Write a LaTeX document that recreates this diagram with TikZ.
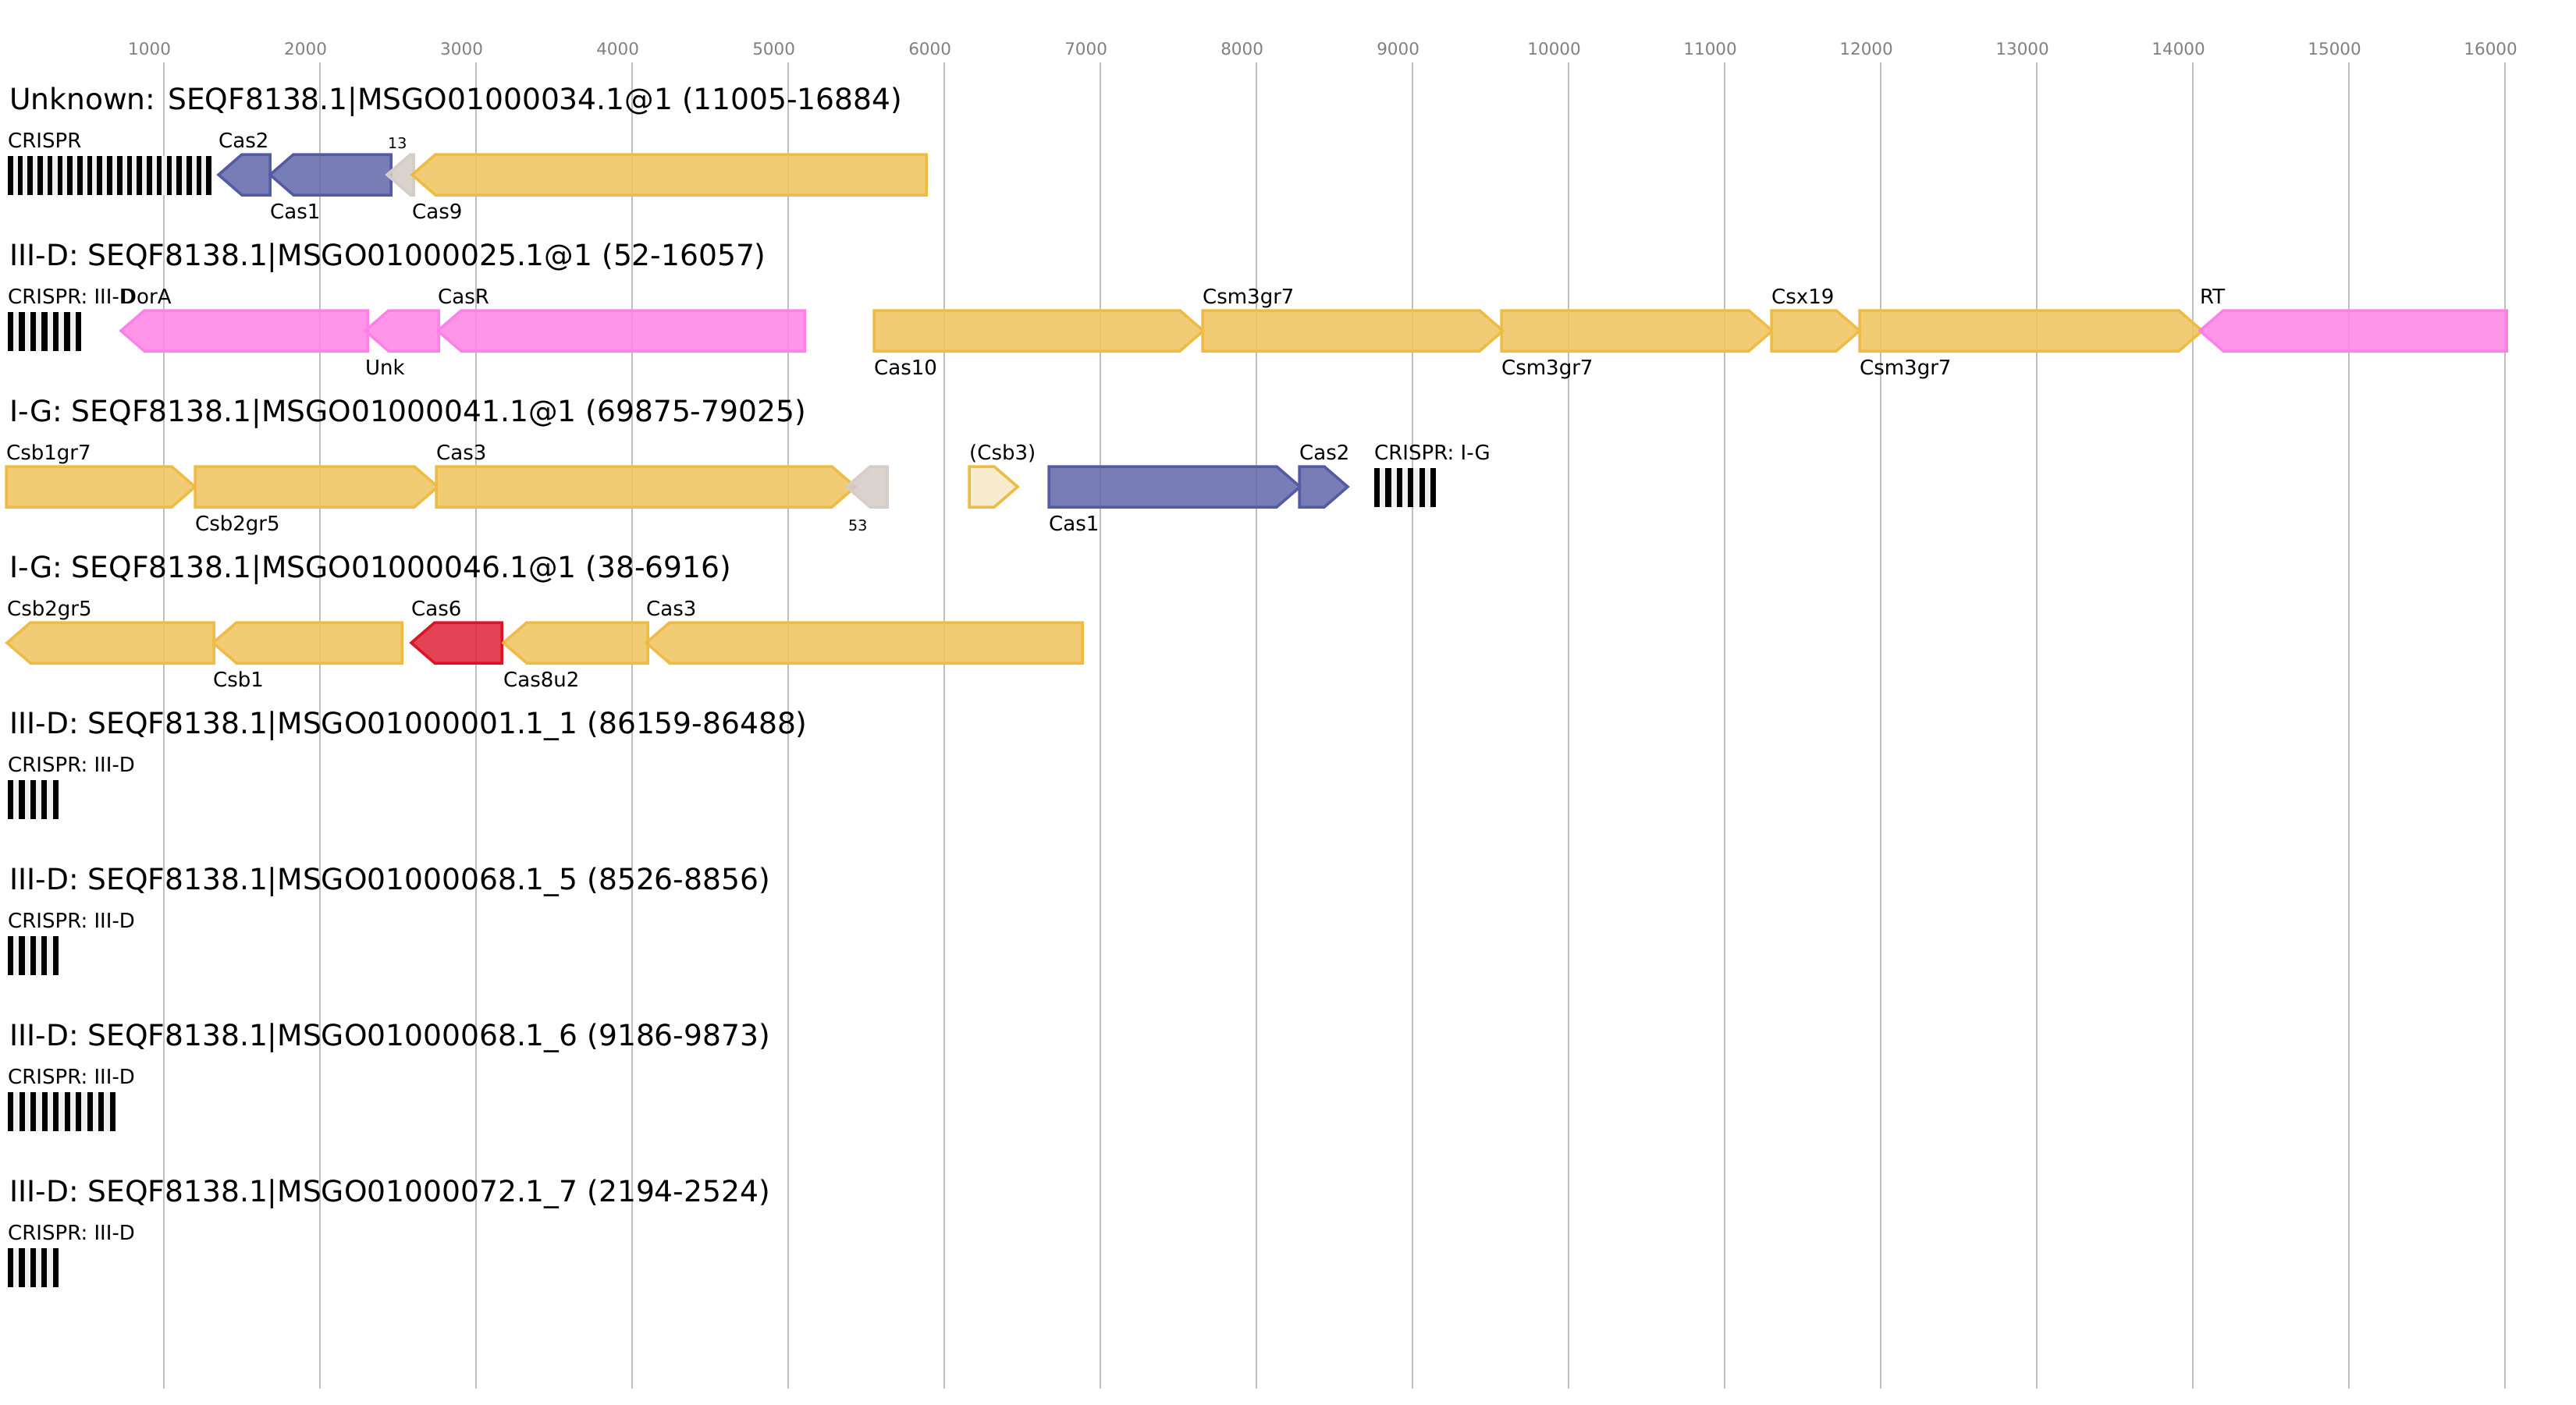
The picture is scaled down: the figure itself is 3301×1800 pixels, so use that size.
\documentclass[tikz,border=0pt]{standalone}
\usepackage{fontspec}
\setmainfont{DejaVu Sans}
\definecolor{ys}{RGB}{238,187,68}
\definecolor{yf}{RGB}{240,196,94}
\definecolor{bs}{RGB}{85,90,165}
\definecolor{bf}{RGB}{98,103,170}
\definecolor{ps}{RGB}{255,128,230}
\definecolor{pf}{RGB}{255,131,230}
\definecolor{rs}{RGB}{220,20,40}
\definecolor{rf}{RGB}{223,35,55}
\definecolor{gs}{RGB}{215,205,200}
\definecolor{gf}{RGB}{211,203,197}
\definecolor{lf}{RGB}{249,232,197}
\definecolor{gridc}{RGB}{192,192,192}
\definecolor{tickc}{RGB}{128,128,128}
\definecolor{crgray}{RGB}{240,240,240}
\tikzset{
  yel/.style={draw=ys,fill=yf,fill opacity=0.85,line width=3.5pt,line join=miter},
  blu/.style={draw=bs,fill=bf,fill opacity=0.85,line width=3.5pt,line join=miter},
  pnk/.style={draw=ps,fill=pf,fill opacity=0.85,line width=3.5pt,line join=miter},
  red/.style={draw=rs,fill=rf,fill opacity=0.85,line width=3.5pt,line join=miter},
  bei/.style={draw=gs,fill=gf,fill opacity=0.85,line width=3.5pt,line join=miter},
  lye/.style={draw=ys,fill=lf,fill opacity=0.85,line width=3.5pt,line join=miter},
  lab/.style={font=\fontsize{26}{30}\selectfont,anchor=base west,inner sep=0pt},
  sml/.style={font=\fontsize{19}{22}\selectfont,anchor=base west,inner sep=0pt},
  ttl/.style={font=\fontsize{37.6}{44}\selectfont,anchor=base west,inner sep=0pt},
  tick/.style={font=\fontsize{21.5}{25}\selectfont,text=tickc,anchor=base,inner sep=0pt},
  gridline/.style={draw=gridc,line width=2pt}
}
\newcommand\gR[3]{\pgfmathsetmacro\hd{min(30,#2-#1)}\draw[#3] (#1,198) -- ({#2-\hd},198) -- (#2,224) -- ({#2-\hd},250) -- (#1,250) -- cycle;}
\newcommand\gL[3]{\pgfmathsetmacro\hd{min(30,#2-#1)}\draw[#3] (#1,224) -- ({#1+\hd},198) -- (#2,198) -- (#2,250) -- ({#1+\hd},250) -- cycle;}
\newcommand\crispr[4]{\fill[crgray] (#1,200) rectangle ({#1+(#2-1)*#3+#4},250);
  \foreach \k in {1,...,#2}{\fill[black] ({#1+(\k-1)*#3},200) rectangle ++(#4,50);}}
\newcommand\la[3]{\node[lab] (#1) at (#2,189) {#3};}
\newcommand\lb[3]{\node[lab] (#1) at (#2,280) {#3};}
\begin{document}
\begin{tikzpicture}[x=1pt,y=-1pt]
\useasboundingbox[fill=white] (0,0) rectangle (3301,1800);
\foreach \v in {1,...,16}{
  \draw[gridline] ({9.6+200*\v},80) -- ({9.6+200*\v},1780);
  \node[tick] (tk\v) at ({9.6+200*\v-18},70) {\v000};
}
% row 0
\begin{scope}
\node[ttl] (t0) at (12,140) {Unknown: SEQF8138.1|MSGO01000034.1@1 (11005-16884)};
\crispr{10}{21}{12.72}{6.6}
\la{r0cr}{10}{CRISPR}
\gL{280}{346}{blu} \la{r0a}{280}{Cas2}
\gL{346}{501}{blu} \lb{r0b}{346}{Cas1}
\gL{496}{530}{bei} \node[sml] (r0c) at (497,190) {13};
\gL{528}{1187}{yel} \lb{r0d}{528}{Cas9}
\end{scope}
% row 1
\begin{scope}[shift={(0,200)}]
\node[ttl] (t1) at (12,140) {III-D: SEQF8138.1|MSGO01000025.1@1 (52-16057)};
\crispr{10}{7}{14.47}{7.2}
\la{r1cr}{10}{CRISPR: III-D}
\gL{155}{471}{pnk} \la{r1a}{155}{DorA}
\gL{468}{562}{pnk} \lb{r1b}{468}{Unk}
\gL{561}{1031}{pnk} \la{r1c}{561}{CasR}
\gR{1120}{1542}{yel} \lb{r1d}{1120}{Cas10}
\gR{1541}{1926}{yel} \la{r1e}{1541}{Csm3gr7}
\gR{1924}{2271}{yel} \lb{r1f}{1924}{Csm3gr7}
\gR{2270}{2383}{yel} \la{r1g}{2270}{Csx19}
\gR{2383}{2822}{yel} \lb{r1h}{2383}{Csm3gr7}
\gL{2819}{3212}{pnk} \la{r1i}{2819}{RT}
\end{scope}
% row 2
\begin{scope}[shift={(0,400)}]
\node[ttl] (t2) at (12,140) {I-G: SEQF8138.1|MSGO01000041.1@1 (69875-79025)};
\gR{8}{250}{yel} \la{r2a}{8}{Csb1gr7}
\gR{250}{561}{yel} \lb{r2b}{250}{Csb2gr5}
\gR{559}{1096}{yel} \la{r2c}{559}{Cas3}
\gL{1085}{1137}{bei} \node[sml] (r2d) at (1087,280) {53};
\gR{1242}{1304}{lye} \la{r2e}{1242}{(Csb3)}
\gR{1344}{1666}{blu} \lb{r2f}{1344}{Cas1}
\gR{1665}{1727}{blu} \la{r2g}{1665}{Cas2}
\crispr{1761}{6}{14.4}{7.2}
\la{r2cr}{1761}{CRISPR: I-G}
\end{scope}
% row 3
\begin{scope}[shift={(0,600)}]
\node[ttl] (t3) at (12,140) {I-G: SEQF8138.1|MSGO01000046.1@1 (38-6916)};
\gL{9}{274}{yel} \la{r3a}{9}{Csb2gr5}
\gL{273}{515}{yel} \lb{r3b}{273}{Csb1}
\gL{527}{643}{red} \la{r3c}{527}{Cas6}
\gL{645}{830}{yel} \lb{r3d}{645}{Cas8u2}
\gL{828}{1387}{yel} \la{r3e}{828}{Cas3}
\end{scope}
% row 4
\begin{scope}[shift={(0,800)}]
\node[ttl] (t4) at (12,140) {III-D: SEQF8138.1|MSGO01000001.1\_1 (86159-86488)};
\crispr{10}{5}{14.4}{7.2}
\la{r4cr}{10}{CRISPR: III-D}
\end{scope}
% row 5
\begin{scope}[shift={(0,1000)}]
\node[ttl] (t5) at (12,140) {III-D: SEQF8138.1|MSGO01000068.1\_5 (8526-8856)};
\crispr{10}{5}{14.4}{7.2}
\la{r5cr}{10}{CRISPR: III-D}
\end{scope}
% row 6
\begin{scope}[shift={(0,1200)}]
\node[ttl] (t6) at (12,140) {III-D: SEQF8138.1|MSGO01000068.1\_6 (9186-9873)};
\crispr{10}{10}{14.5}{7.2}
\la{r6cr}{10}{CRISPR: III-D}
\end{scope}
% row 7
\begin{scope}[shift={(0,1400)}]
\node[ttl] (t7) at (12,140) {III-D: SEQF8138.1|MSGO01000072.1\_7 (2194-2524)};
\crispr{10}{5}{14.4}{7.2}
\la{r7cr}{10}{CRISPR: III-D}
\end{scope}
\end{tikzpicture}
\end{document}
